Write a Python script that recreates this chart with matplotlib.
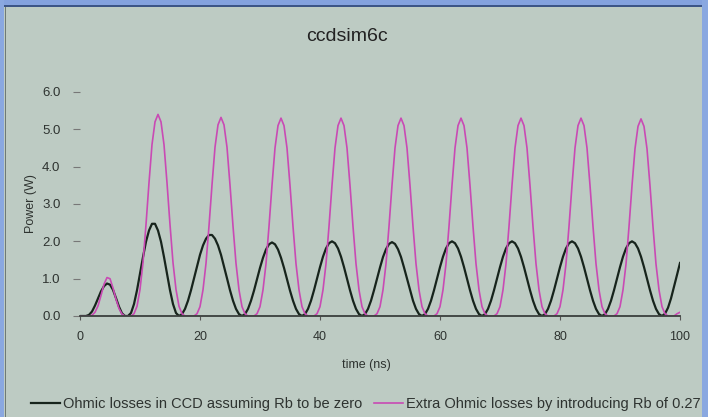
import numpy as np
import matplotlib
matplotlib.use("Agg")
import matplotlib.pyplot as plt
from matplotlib.patches import Rectangle

plt.rcParams['font.family'] = ['Liberation Sans', 'DejaVu Sans']

# time axis, 0.5 ns resolution
time_ns = np.linspace(0, 100, 201)

# Ohmic losses in the CCD with Rb = 0 (W)
ohmic_ccd = [
    0, 0, 0, 0.03, 0.12, 0.28, 0.47, 0.66, 0.80, 0.87,
    0.84, 0.70, 0.48, 0.25, 0.07, 0, 0, 0.08, 0.32, 0.69,
    1.13, 1.58, 1.99, 2.29, 2.47, 2.47, 2.29, 1.99, 1.58, 1.13,
    0.69, 0.32, 0.08, 0, 0.05, 0.19, 0.41, 0.69, 1.01, 1.33,
    1.64, 1.89, 2.07, 2.17, 2.17, 2.07, 1.89, 1.64, 1.33, 1.01,
    0.69, 0.41, 0.19, 0.05, 0, 0.05, 0.19, 0.41, 0.68, 0.99,
    1.29, 1.56, 1.78, 1.92, 1.97, 1.92, 1.78, 1.56, 1.29, 0.99,
    0.68, 0.41, 0.19, 0.05, 0, 0.05, 0.19, 0.41, 0.69, 1.00,
    1.31, 1.59, 1.81, 1.95, 2.00, 1.95, 1.81, 1.59, 1.31, 1.00,
    0.69, 0.41, 0.19, 0.05, 0, 0.05, 0.19, 0.41, 0.69, 1.00,
    1.30, 1.58, 1.79, 1.93, 1.98, 1.93, 1.79, 1.58, 1.30, 1.00,
    0.69, 0.41, 0.19, 0.05, 0, 0.05, 0.19, 0.41, 0.69, 1.00,
    1.31, 1.59, 1.81, 1.95, 2.00, 1.95, 1.81, 1.59, 1.31, 1.00,
    0.69, 0.41, 0.19, 0.05, 0, 0.05, 0.19, 0.41, 0.69, 1.00,
    1.31, 1.59, 1.81, 1.95, 2.00, 1.95, 1.81, 1.59, 1.31, 1.00,
    0.69, 0.41, 0.19, 0.05, 0, 0.05, 0.19, 0.41, 0.69, 1.00,
    1.31, 1.59, 1.81, 1.95, 2.00, 1.95, 1.81, 1.59, 1.31, 1.00,
    0.69, 0.41, 0.19, 0.05, 0, 0.05, 0.19, 0.41, 0.69, 1.00,
    1.31, 1.59, 1.81, 1.95, 2.00, 1.95, 1.81, 1.59, 1.31, 1.00,
    0.69, 0.41, 0.19, 0.05, 0, 0.06, 0.22, 0.47, 0.78, 1.10,
    1.42,
]

# Extra Ohmic losses when Rb = 0.27 is introduced (W)
extra_ohmic = [
    0, 0, 0, 0, 0.02, 0.10, 0.27, 0.55, 0.85, 1.03,
    1.00, 0.75, 0.45, 0.20, 0.05, 0, 0, 0, 0.06, 0.26,
    0.71, 1.43, 2.45, 3.57, 4.59, 5.20, 5.40, 5.20, 4.59, 3.57,
    2.45, 1.43, 0.71, 0.26, 0.06, 0, 0, 0, 0, 0.06,
    0.25, 0.70, 1.41, 2.41, 3.51, 4.52, 5.12, 5.32, 5.12, 4.52,
    3.51, 2.41, 1.41, 0.70, 0.25, 0.06, 0, 0, 0, 0.06,
    0.25, 0.70, 1.40, 2.40, 3.50, 4.50, 5.10, 5.30, 5.10, 4.50,
    3.50, 2.40, 1.40, 0.70, 0.25, 0.06, 0, 0, 0, 0.06,
    0.25, 0.70, 1.40, 2.40, 3.50, 4.50, 5.10, 5.30, 5.10, 4.50,
    3.50, 2.40, 1.40, 0.70, 0.25, 0.06, 0, 0, 0, 0.06,
    0.25, 0.70, 1.40, 2.40, 3.50, 4.50, 5.10, 5.30, 5.10, 4.50,
    3.50, 2.40, 1.40, 0.70, 0.25, 0.06, 0, 0, 0, 0.06,
    0.25, 0.70, 1.40, 2.40, 3.50, 4.50, 5.10, 5.30, 5.10, 4.50,
    3.50, 2.40, 1.40, 0.70, 0.25, 0.06, 0, 0, 0, 0.06,
    0.25, 0.70, 1.40, 2.40, 3.50, 4.50, 5.10, 5.30, 5.10, 4.50,
    3.50, 2.40, 1.40, 0.70, 0.25, 0.06, 0, 0, 0, 0.06,
    0.25, 0.70, 1.40, 2.40, 3.50, 4.50, 5.10, 5.30, 5.10, 4.50,
    3.50, 2.40, 1.40, 0.70, 0.25, 0.06, 0, 0, 0, 0.06,
    0.25, 0.70, 1.39, 2.39, 3.49, 4.48, 5.08, 5.28, 5.08, 4.48,
    3.49, 2.39, 1.39, 0.70, 0.25, 0.06, 0, 0, 0, 0.06,
    0.10,
]

x_ticks = [0, 20, 40, 60, 80, 100]
y_ticks = [0.0, 1.0, 2.0, 3.0, 4.0, 5.0, 6.0]
y_tick_labels = ['0.0', '1.0', '2.0', '3.0', '4.0', '5.0', '6.0']

title = 'ccdsim6c'
x_label = 'time (ns)'
y_label = 'Power (W)'
label_ccd = 'Ohmic losses in CCD assuming Rb to be zero'
label_extra = 'Extra Ohmic losses by introducing Rb of 0.27'

W, H = 708, 417
bg = '#bdcbc3'
txt = '#2e3330'

fig = plt.figure(figsize=(W / 100, H / 100), dpi=100)
fig.patch.set_facecolor(bg)

# window frame
fig.add_artist(Rectangle((0, 1 - 5 / H), 1, 5 / H, transform=fig.transFigure,
                         color='#84a2de', lw=0))
fig.add_artist(Rectangle((0, 1 - 6.5 / H), 1, 1.5 / H, transform=fig.transFigure,
                         color='#3c5586', lw=0))
fig.add_artist(Rectangle((0, 0), 4 / W, 1, transform=fig.transFigure,
                         color='#8aa8e0', lw=0))
fig.add_artist(Rectangle((5 / W, 0), 1.2 / W, 1 - 7 / H, transform=fig.transFigure,
                         color='#6f7a76', lw=0))
fig.add_artist(Rectangle((1 - 6 / W, 0), 6 / W, 1, transform=fig.transFigure,
                         color='#8aa8e0', lw=0))

ax = fig.add_axes([80 / W, 1 - 316 / H, 600 / W, 224 / H])
ax.set_facecolor('none')

ax.plot(time_ns, ohmic_ccd, color='#17241c', lw=1.6, label=label_ccd, zorder=3)
ax.plot(time_ns, extra_ohmic, color='#c94ab4', lw=1.2, label=label_extra, zorder=4)

ax.set_xlim(0, 100)
ax.set_ylim(0, 6)
ax.set_xticks(x_ticks)
ax.set_yticks(y_ticks)
ax.set_yticklabels(y_tick_labels)

for s in ('top', 'right', 'left'):
    ax.spines[s].set_visible(False)
ax.spines['bottom'].set_color('#3a3f3c')
ax.spines['bottom'].set_linewidth(1.3)
ax.spines['bottom'].set_zorder(5)

ax.tick_params(axis='x', direction='out', length=3, width=0.8, color='#555',
               pad=8, labelsize=9, labelcolor=txt)
ax.tick_params(axis='y', direction='out', length=5, width=0.8, color='#777',
               pad=9, labelsize=9.5, labelcolor=txt)

ax.set_title(title, x=0.445, y=1.228, pad=0, fontsize=14, color='#222')

ax.set_xlabel(x_label, fontsize=9, color=txt)
ax.xaxis.label.set_va('center')
ax.xaxis.set_label_coords(0.477, -0.219)

ax.set_ylabel(y_label, fontsize=9, color=txt)
ax.yaxis.label.set_va('center')
ax.yaxis.set_label_coords(-0.082, 0.5)

handles, labels = ax.get_legend_handles_labels()
fig.legend(handles, labels, loc='center', bbox_to_anchor=(0.517, 1 - 404 / H),
           ncol=2, frameon=False, fontsize=10.5, handlelength=2.0,
           handletextpad=0.2, columnspacing=0.8, labelcolor=txt)

fig.savefig('out.png', dpi=100, facecolor=bg)
